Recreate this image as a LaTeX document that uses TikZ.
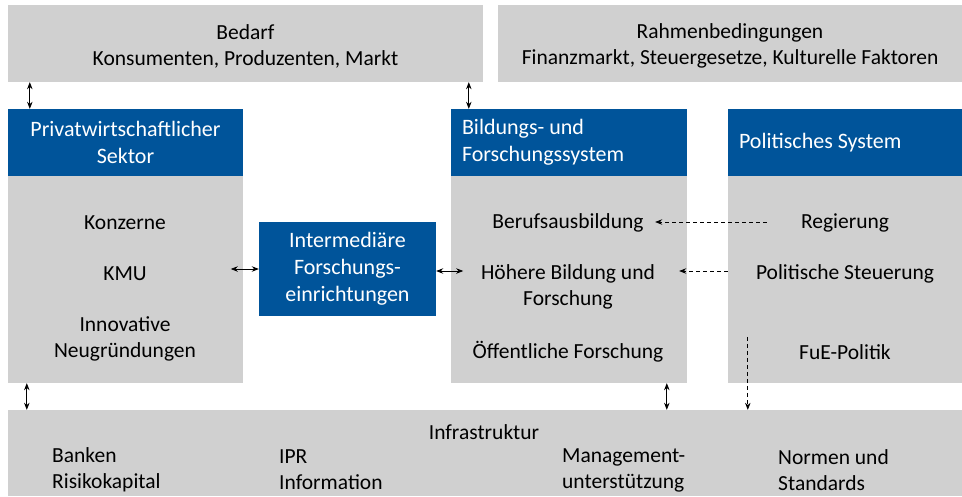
\documentclass[tikz,border=0pt]{standalone}
\usepackage{fontspec}
\setmainfont{Carlito}
\usepackage{xcolor}
\usetikzlibrary{arrows.meta,positioning,calc}

\definecolor{boxgrey}{HTML}{D0D0D0}
\definecolor{boxblue}{HTML}{00549A}

\tikzset{
  greybox/.style={fill=boxgrey, draw=none, inner sep=0pt, align=center,
    font=\fontsize{21.5}{26}\selectfont},
  bluebox/.style={fill=boxblue, draw=none, text=white, inner sep=0pt, align=center,
    font=\fontsize{22}{27}\selectfont},
  item/.style={inner sep=0pt, align=center, font=\fontsize{21.5}{26}\selectfont},
  link/.style={<->, >={Stealth[length=7pt,width=5.5pt]}, line width=0.8pt},
  policy/.style={->, >={Stealth[length=7pt,width=5.5pt]}, line width=0.7pt,
    dash pattern=on 4pt off 3pt}
}

\begin{document}
\begin{tikzpicture}[x=1pt,y=-1pt]
\useasboundingbox (0,0) rectangle (962,496);
% Umfeld oben
\node[greybox, minimum width=475, minimum height=77] (bedarf) at (245.5,43.5) {};
\node[item] (bedarftext) at (245.5,46) {Bedarf\\Konsumenten, Produzenten, Markt};
\node[greybox, minimum width=464, minimum height=77] (rahmen) at (730,43.5) {};
\node[item] (rahmentext) at (730,46) {Rahmenbedingungen\\Finanzmarkt, Steuergesetze, Kulturelle Faktoren};

% Saeulen
\node[greybox, minimum width=235, minimum height=207] (privbody) at (125.5,279.5) {};
\node[bluebox, minimum width=235, minimum height=67] (privhead) at (125.5,142.5) {Privatwirtschaftlicher\\Sektor};
\node[greybox, minimum width=236, minimum height=207] (bildbody) at (569,279.5) {};
\node[bluebox, minimum width=236, minimum height=67, text width=214, align=flush left] (bildhead) at (569,142.5) {Bildungs- und\\Forschungssystem};
\node[greybox, minimum width=234, minimum height=207] (polbody) at (845,279.5) {};
\node[bluebox, minimum width=234, minimum height=67, text width=212, align=flush left] (polhead) at (845,142.5) {Politisches System};
\node[bluebox, minimum width=177, minimum height=94] (inter) at (347.5,269) {Intermediäre\\Forschungs-\\einrichtungen};

% Akteure
\node[item] (konzerne) at (125,223) {Konzerne};
\node[item] (kmu) at (125,274) {KMU};
\node[item] (neugr) at (125,339) {Innovative\\Neugründungen};
\node[item] (berufs) at (568,223) {Berufsausbildung};
\node[item] (hoehere) at (568,287) {Höhere Bildung und\\Forschung};
\node[item] (oeff) at (568,352) {Öffentliche Forschung};
\node[item] (regierung) at (845,223) {Regierung};
\node[item] (steuerung) at (845,274) {Politische Steuerung};
\node[item] (fue) at (845,352) {FuE-Politik};

% Infrastruktur
\node[greybox, minimum width=954, minimum height=86] (infra) at (485,453) {};
\node[item] (infratitle) at (484,432) {Infrastruktur};
\node[item, anchor=west, align=flush left] (banken) at (52,470) {Banken\\Risikokapital};
\node[item, anchor=west, align=flush left] (ipr) at (279,470) {IPR\\Information};
\node[item, anchor=west, align=flush left] (mgmt) at (562,470) {Management-\\unterstützung};
\node[item, anchor=west, align=flush left] (normen) at (778,470) {Normen und\\Standards};

% Verbindungen
\coordinate (a1) at ($(privhead.north west)+(22,0)$);
\coordinate (a2) at ($(bildhead.north west)+(18,0)$);
\coordinate (a3) at ($(privbody.south west)+(19,0)$);
\coordinate (a4) at ($(bildbody.south west)+(216,0)$);
\coordinate (a5) at ($(polbody.north west)+(20,161)$);
\draw[link] (a1 |- bedarf.south) -- (a1);
\draw[link] (a2 |- bedarf.south) -- (a2);
\draw[link] (a3) -- (a3 |- infra.north);
\draw[link] (a4) -- (a4 |- infra.north);
\draw[link] ($(inter.west)+(-28,0)$) -- (inter.west);
\draw[link] ($(inter.east)+(0,2)$) -- ($(inter.east)+(27,2)$);
\draw[policy] ($(berufs -| polbody.west)+(39,-1)$) -- ($(berufs -| bildbody.east)+(-32,-1)$);
\draw[policy] ($(steuerung -| polbody.west)+(0,-3)$) -- ($(steuerung -| bildbody.east)+(-8,-3)$);
\draw[policy] (a5) -- (a5 |- infra.north);
\end{tikzpicture}
\end{document}
